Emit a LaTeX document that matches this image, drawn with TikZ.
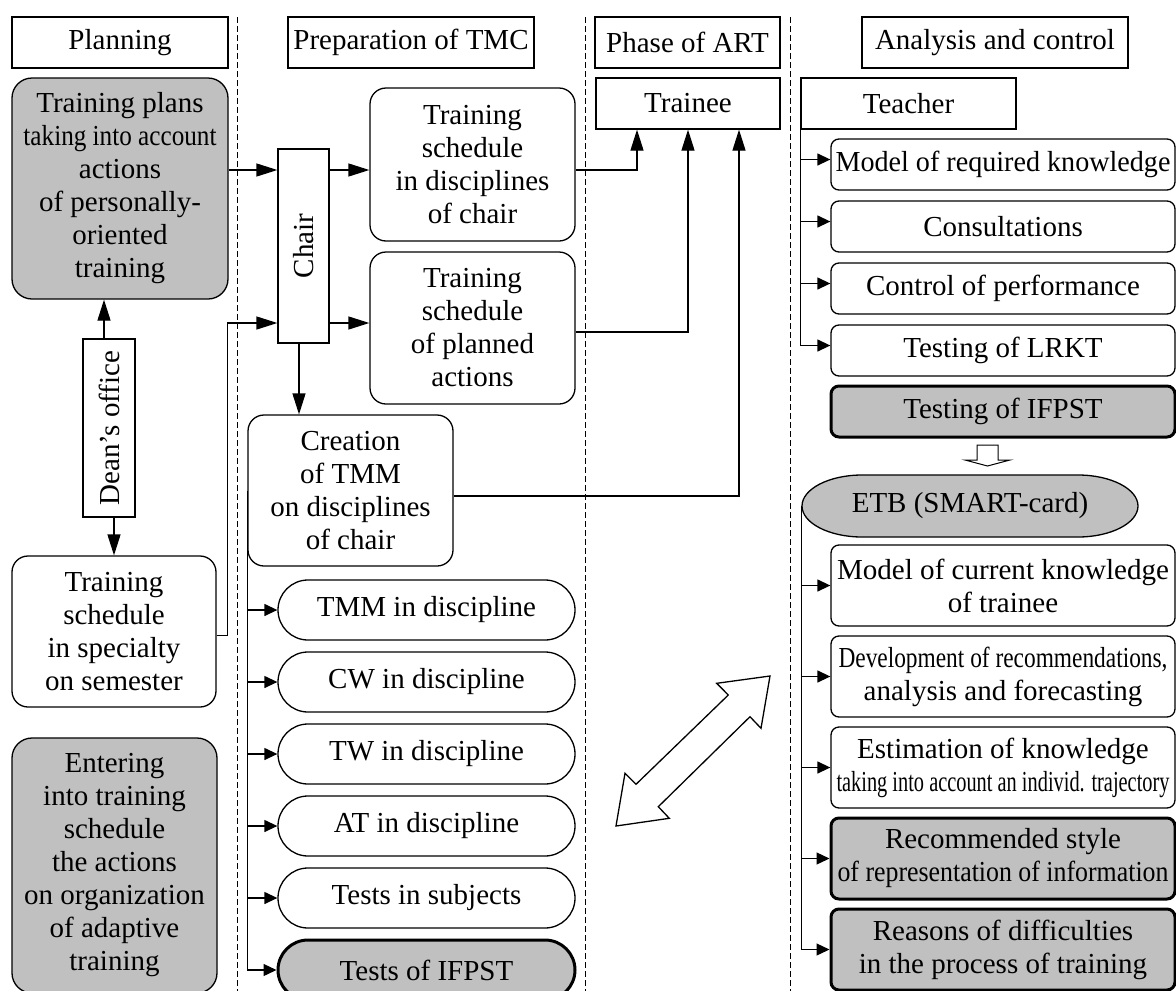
\documentclass[tikz,border=0pt]{standalone}
\usepackage{graphicx}
\usepackage{fontspec}
\setmainfont{Liberation Serif}
\usetikzlibrary{arrows.meta,shapes.misc}
\definecolor{boxgray}{RGB}{192,192,192}
\newcommand{\squeeze}[2]{\resizebox{#1}{\height}{#2}}
\tikzset{
  every node/.style={font=\fontsize{29}{33}\selectfont, align=center, inner sep=0pt},
  head/.style={draw, line width=1.3pt, minimum height=51pt},
  block/.style={draw, line width=1.3pt, rounded corners=16pt},
  shaded/.style={fill=boxgray},
  bold/.style={line width=3pt},
  pill/.style={draw, line width=1.3pt, rounded rectangle, minimum width=297pt, minimum height=60pt},
  item/.style={draw, line width=1.3pt, rounded corners=8pt, minimum width=344pt},
  link/.style={line width=1.3pt, -{Triangle[length=21pt,width=13pt]}},
  twig/.style={line width=1.3pt, -{Triangle[length=13pt,width=12pt]}},
  lane/.style={line width=1pt, dash pattern=on 6pt off 3pt},
}
\begin{document}
\begin{tikzpicture}[x=1pt,y=-1pt]
\useasboundingbox (0,0) rectangle (1176,991);
\clip (0,0) rectangle (1176,991);
\foreach \x in {237,585,790}
    \draw[lane] (\x,17) -- (\x,991);

% headers
\node[head, minimum width=216pt] (planning) at (120,42.5) {Planning};
\node[head, minimum width=246pt] (prep) at (411,42.5) {Preparation of TMC};
\node[head, minimum width=185pt] (phase) at (687.5,42.5) {Phase of ART};
\node[head, minimum width=266pt] (analysis) at (995,42.5) {Analysis and control};
\node[head, minimum width=184pt] (trainee) at (688,103.5) {Trainee};
\node[head, minimum width=215pt] (teacher) at (908.5,103.5) {Teacher};

% planning
\node[block, shaded, rounded corners=20pt, minimum width=216pt, minimum height=221pt] (plans) at (120,188.5)
    {Training plans\\ \squeeze{193pt}{taking into account}\\ actions\\ of personally-\\ oriented\\ training};
\node[draw, line width=1.3pt, minimum width=52pt, minimum height=178pt] (dean) at (109,428) {\rotatebox{90}{Dean’s office}};
\node[block, minimum width=204pt, minimum height=151pt] (spec) at (114,631.5) {Training\\ schedule\\ in specialty\\ on semester};
\node[block, shaded, rounded corners=20pt, minimum width=205pt, minimum height=255pt] (enter) at (114.5,865.5)
    {Entering\\ into training\\ schedule\\ the actions\\ on organization\\ of adaptive\\ training};

% preparation of TMC
\node[draw, line width=1.3pt, minimum width=51pt, minimum height=194pt] (chair) at (303.5,246) {\rotatebox{90}{Chair}};
\node[block, minimum width=205pt, minimum height=153pt] (ts1) at (472.5,164.5) {Training\\ schedule\\ in disciplines\\ of chair};
\node[block, minimum width=205pt, minimum height=152pt] (ts2) at (472.5,328) {Training\\ schedule\\ of planned\\ actions};
\node[block, minimum width=205pt, minimum height=151pt] (tmm) at (350.5,490.5) {Creation\\ of TMM\\ on disciplines\\ of chair};
\foreach \t [count=\i] in {TMM in discipline, CW in discipline, TW in discipline, AT in discipline, Tests in subjects}
    \node[pill] (p\i) at (426.5,538+72*\i) {\t};
\node[pill, shaded, bold] (p6) at (426.5,970) {Tests of IFPST};

% analysis and control
\foreach \t [count=\i] in {\squeeze{335pt}{Model of required knowledge}, Consultations, Control of performance, Testing of LRKT}
    \node[item, minimum height=51pt] (q\i) at (1003,102.5+62*\i) {\t};
\node[item, shaded, bold, minimum height=51pt] (q5) at (1003,411.5) {Testing of IFPST};
\draw[line width=1pt, fill=white] (977,445) -- (998,445) -- (998,460) -- (1010,460) -- (987.5,466) -- (965,460) -- (977,460) -- cycle;
\draw[line width=1.3pt, fill=boxgray] (862,475) -- (1078,475) .. controls (1111,475) and (1138,489) .. (1138,506)
    .. controls (1138,523) and (1111,537) .. (1078,537) -- (862,537) .. controls (829,537) and (802,523) .. (802,506)
    .. controls (802,489) and (829,475) .. (862,475) -- cycle;
\node[minimum width=336pt, minimum height=62pt] (etb) at (970,506) {ETB (SMART-card)};
\node[item, minimum height=81pt] (r1) at (1003,585.5) {\squeeze{332pt}{Model of current knowledge}\\ of trainee};
\node[item, minimum height=81pt] (r2) at (1003,676.5) {\squeeze{329pt}{Development of recommendations,}\\ analysis and forecasting};
\node[item, minimum height=81pt] (r3) at (1003,767.5) {Estimation of knowledge\\ \squeeze{333pt}{taking into account an individ. trajectory}};
\node[item, shaded, bold, minimum height=81pt] (r4) at (1003,858.5) {Recommended style\\ \squeeze{331pt}{of representation of information}};
\node[item, shaded, bold, minimum height=81pt] (r5) at (1003,949.5) {Reasons of difficulties\\ in the process of training};

% exchange between trainee phase and analysis
\draw[line width=1.3pt] (770,676) -- (716.7,683.3) -- (728.3,695) -- (636,784.3) -- (625,773.3) -- (616,826)
    -- (669.3,818.3) -- (658.3,806.7) -- (750,716.7) -- (761,728.3) -- cycle;

% connectors
\coordinate (c1) at ([yshift=76pt]chair.west);
\coordinate (c2) at ([yshift=-77pt]chair.west);
\draw[link] (plans.east |- c1) -- (c1);
\draw[link] ([yshift=-4pt]spec.east) -- ++(11pt,0) |- (c2);
\draw[link] ([xshift=-5pt]dean.north) -- ([xshift=-5pt]dean.north |- plans.south);
\draw[link] (dean.south -| spec.north) -- (spec.north);
\draw[link] (chair.east |- c1) -- (ts1.west |- c1);
\draw[link] (chair.east |- c2) -- (ts2.west |- c2);
\draw[link] ([xshift=-4.5pt]chair.south) -- ([xshift=-4.5pt]chair.south |- tmm.north);
\draw[link] ([yshift=-5.5pt]ts1.east) -| ([xshift=-51pt]trainee.south);
\draw[link] ([yshift=-4pt]ts2.east) -| (trainee.south);
\draw[link] ([yshift=-5.5pt]tmm.east) -| ([xshift=51pt]trainee.south);

\draw[line width=1.3pt] (tmm.west) -- (tmm.west |- p6.west);
\foreach \i in {1,...,6}
    \draw[twig] (tmm.west |- p\i.west) -- (p\i.west);

\foreach \i in {1,...,4}{
    \coordinate (t\i) at ([yshift=5pt]q\i.west);
    \draw[twig] (teacher.south west |- t\i) -- (t\i);
}
\draw[line width=1.3pt] (teacher.south west) -- (teacher.south west |- t4);

\draw[line width=1.3pt] (etb.west) -- (etb.west |- r5.west);
\foreach \i in {1,...,5}
    \draw[twig] (etb.west |- r\i.west) -- (r\i.west);
\end{tikzpicture}
\end{document}
